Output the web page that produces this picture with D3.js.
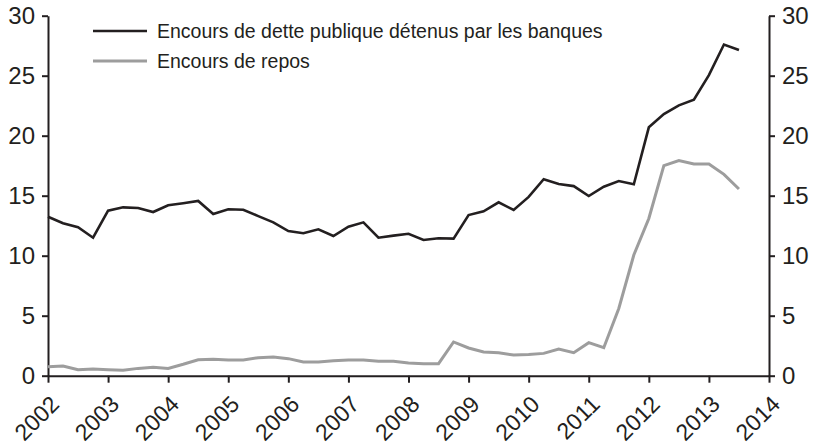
<!DOCTYPE html>
<html>
<head>
<meta charset="utf-8">
<script src="https://cdn.jsdelivr.net/npm/d3@7"></script>
<style>
  body { margin: 0; background: #fff; }
  text { font-family: "Liberation Sans", Arial, sans-serif; fill: #231f20; }
</style>
</head>
<body>
<div id="vis"></div>
<script>
// Frame and plot area
const FRAME_WIDTH = 818;
const FRAME_HEIGHT = 447;
const MARGINS = {left: 48, right: 49, top: 15.7, bottom: 71.3};
const VIS_WIDTH = FRAME_WIDTH - MARGINS.left - MARGINS.right;
const VIS_HEIGHT = FRAME_HEIGHT - MARGINS.top - MARGINS.bottom;

// Data (quarterly, 2002 Q1 - 2013 Q3)
const START_YEAR = 2002;
const debtHeld = [13.25, 12.7, 12.37, 11.5, 13.75, 14.03, 13.97, 13.64,
                  14.2, 14.37, 14.56, 13.47, 13.87, 13.83, 13.3, 12.78,
                  12.05, 11.87, 12.2, 11.64, 12.42, 12.78, 11.5, 11.67,
                  11.83, 11.31, 11.45, 11.42, 13.39, 13.7, 14.45, 13.81,
                  14.9, 16.37, 15.97, 15.8, 14.97, 15.75, 16.22, 15.95,
                  20.7, 21.8, 22.53, 23.0, 25.05, 27.6, 27.14];
const repos = [0.75, 0.81, 0.5, 0.56, 0.5, 0.45, 0.61, 0.7,
               0.61, 0.95, 1.33, 1.37, 1.31, 1.31, 1.5, 1.56,
               1.42, 1.14, 1.14, 1.25, 1.31, 1.31, 1.2, 1.2,
               1.06, 1.0, 1.0, 2.81, 2.31, 1.97, 1.92, 1.72,
               1.76, 1.86, 2.22, 1.92, 2.75, 2.33, 5.6, 10.06,
               13.1, 17.5, 17.92, 17.64, 17.64, 16.78, 15.56];
const yearTicks = [2002, 2003, 2004, 2005, 2006, 2007, 2008, 2009, 2010, 2011, 2012, 2013, 2014];
const valueTicks = [0, 5, 10, 15, 20, 25, 30];
const seriesNames = ["Encours de dette publique détenus par les banques", "Encours de repos"];
const seriesColors = ["#231f20", "#9d9d9d"];

const FRAME = d3.select("#vis")
                .append("svg")
                  .attr("width", FRAME_WIDTH)
                  .attr("height", FRAME_HEIGHT);

// Scales
const X_SCALE = d3.scaleLinear()
                  .domain([2002, 2014])
                  .range([0, VIS_WIDTH]);
const Y_SCALE = d3.scaleLinear()
                  .domain([0, 30])
                  .range([VIS_HEIGHT, 0]);

const PLOT = FRAME.append("g")
                  .attr("transform", "translate(" + MARGINS.left + "," + MARGINS.top + ")");

// Axes
function styleAxis(g) {
  g.selectAll("path, line").attr("stroke", "#231f20").attr("stroke-width", 2);
  g.selectAll("text").attr("font-size", "24px").attr("fill", "#231f20");
}

PLOT.append("g")
    .call(d3.axisLeft(Y_SCALE).tickValues(valueTicks).tickSize(6).tickSizeOuter(0).tickPadding(7))
    .call(styleAxis)
    .attr("font-family", null);

PLOT.append("g")
    .attr("transform", "translate(" + VIS_WIDTH + ",0)")
    .call(d3.axisRight(Y_SCALE).tickValues(valueTicks).tickSize(6).tickSizeOuter(0).tickPadding(7))
    .call(styleAxis)
    .attr("font-family", null);

const xAxis = PLOT.append("g")
    .attr("transform", "translate(0," + VIS_HEIGHT + ")")
    .call(d3.axisBottom(X_SCALE).tickValues(yearTicks).tickFormat(d3.format("d")).tickSize(7).tickSizeOuter(0))
    .call(styleAxis)
    .attr("font-family", null);

xAxis.selectAll("text")
     .attr("text-anchor", "end")
     .attr("dy", null)
     .attr("y", 0)
     .attr("font-size", "23px")
     .attr("transform", "translate(12,30)rotate(-45)");

// Lines
const quarterX = (i) => X_SCALE(START_YEAR + i / 4);
const line = d3.line()
               .x((d, i) => quarterX(i))
               .y((d) => Y_SCALE(d));

[repos, debtHeld].forEach((series, k) => {
  PLOT.append("path")
      .datum(series)
      .attr("fill", "none")
      .attr("stroke", seriesColors[1 - k])
      .attr("stroke-width", k === 0 ? 3 : 2.6)
      .attr("stroke-linejoin", "miter")
      .attr("d", line);
});

// Legend
const legend = FRAME.append("g");
seriesNames.forEach((name, i) => {
  const y = 31 + i * 30;
  legend.append("line")
        .attr("x1", 93).attr("x2", 147)
        .attr("y1", y).attr("y2", y)
        .attr("stroke", seriesColors[i])
        .attr("stroke-width", i === 0 ? 2.6 : 3);
  legend.append("text")
        .attr("x", 157)
        .attr("y", y + 7)
        .attr("font-size", "19.5px")
        .text(name);
});
</script>
</body>
</html>
